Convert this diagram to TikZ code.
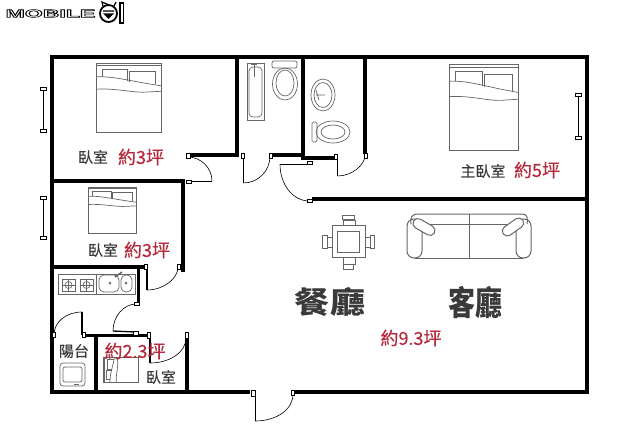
\documentclass[tikz,border=0pt]{standalone}
\usepackage{fontspec}
\setmainfont{Noto Sans CJK TC}
\newfontfamily\logofont{Liberation Sans}
\newfontfamily\areafont[FakeBold=0.5]{Noto Sans CJK TC}
\newfontfamily\roomfont[FakeBold=0.2]{Noto Sans CJK TC}
\definecolor{labelred}{HTML}{B42A3C}
\definecolor{labelgray}{HTML}{3A3A3A}
\definecolor{itemgray}{HTML}{666666}

\begin{document}
\begin{tikzpicture}[x=1pt,y=-1pt,
    wall/.style={line width=4pt},
    thinwall/.style={line width=3pt},
    jamb/.style={fill=white,draw=black,line width=0.5pt},
    leaf/.style={line width=1.3pt},
    swing/.style={line width=0.6pt},
    item/.style={draw=itemgray,line width=0.7pt},
    roomlabel/.style={text=labelgray,font=\roomfont\fontsize{15}{15}\selectfont,inner sep=0pt},
    arealabel/.style={text=labelred,font=\areafont\fontsize{18}{18}\selectfont,inner sep=0pt},
    biglabel/.style={text=labelgray,font=\fontsize{30}{30}\selectfont\bfseries,inner sep=0pt},
    bedicon/.pic={
      \draw[item] (0,0) rectangle (1,1);
      \draw[item] (0,.035)--(1,.035);
      \draw[item] (.09,.2)--(.09,.09)--(.48,.09)--(.48,.26);
      \draw[item] (.51,.27)--(.51,.12)--(.92,.12)--(.92,.31);
      \draw[item] (0,.2) .. controls (.3,.19) and (.55,.27) .. (1,.33);
      \draw[item] (0,.38) .. controls (.3,.36) and (.6,.44) .. (.8,.42) -- (1,.41);
    }]
  \useasboundingbox (0,0) rectangle (618,437);

  % logo
  \node[inner sep=0pt,xscale=2.1,font=\logofont\bfseries\fontsize{11}{11}\selectfont] (logotext) at (50.5,13.5)
    {\special{pdf:code 1 Tr 0.55 w}MOBILE\special{pdf:code 0 Tr}};
  \draw[line width=1.8pt] (108.5,13.5) circle[radius=8.5];
  \draw[line width=1.2pt] (103,6)--(102,2)--(108,4.5) (114,6)--(116,2);
  \draw[line width=1.2pt,fill=black] (103,11)--(114,11) (104.5,14)--(108.5,18)--(112.5,14)--cycle;
  \draw[line width=1.5pt] (120,3) rectangle (123.5,23);

  % walls
  \draw[wall] (50,392)--(250,392);
  \draw[wall] (52,392)--(52,57)--(587,57)--(587,392)--(293,392);
  \draw[wall] (237,57)--(237,155)--(187,155);
  \draw[wall] (52,181)--(183,181)--(183,272);
  \draw[wall] (272,155)--(303,155);
  \draw[wall] (303,57)--(303,158)--(336,158);
  \draw[wall] (365,57)--(365,154);
  \draw[wall] (312,199)--(587,199);
  \draw[wall] (52,267)--(146,267);
  \draw[thinwall] (138,267)--(138,303);
  \draw[thinwall] (84,335)--(148,335);
  \draw[wall] (96,335)--(96,392);
  \draw[wall] (187,339)--(187,392);

  % doors
  \draw[leaf,line width=1pt] (187,181)--(212,181);
  \draw[swing] (188,157) .. controls (201,157) and (212,168) .. (212,181);
  \draw[jamb] (186,153) rectangle (190,158);
  \draw[jamb] (186,180) rectangle (191,183);
  \draw[leaf] (243.5,157)--(243.5,183);
  \draw[swing] (243.5,183) .. controls (258,183) and (270,171) .. (270,156);
  \draw[jamb] (241,153) rectangle (244,158);
  \draw[jamb] (269,153) rectangle (272,158);
  \draw[line width=0.8pt] (280,164)--(308,164);
  \draw[swing] (280,164) .. controls (280,184) and (292,200) .. (308,201);
  \draw[jamb] (307,161) rectangle (312,164);
  \draw[jamb] (307,199) rectangle (312,202);
  \draw[leaf] (337.5,158)--(337.5,176);
  \draw[swing] (337.5,176) .. controls (352,176) and (365,165) .. (365,155);
  \draw[jamb] (334,154) rectangle (337,159);
  \draw[jamb] (364,153) rectangle (367,158);
  \draw[leaf] (147,268)--(147,290);
  \draw[swing] (147,290) .. controls (163,290) and (178,279) .. (178,267);
  \draw[jamb] (144,264) rectangle (147,269);
  \draw[jamb] (177,264) rectangle (180,269);
  \draw[leaf] (113,331)--(135,332);
  \draw[swing] (113,331) .. controls (113,316) and (124,304) .. (136,304);
  \draw[jamb] (134,302) rectangle (139,305);
  \draw[jamb] (133,331) rectangle (138,335);
  \draw[leaf] (82,312)--(82,335);
  \draw[swing] (82,312) .. controls (66,312) and (54,322) .. (54,335);
  \draw[jamb] (82,332) rectangle (85,337);
  \draw[jamb] (52.5,332) rectangle (55,337);
  \draw[leaf] (150,335)--(150,363);
  \draw[swing] (150,363) .. controls (170,363) and (186,352) .. (186,338);
  \draw[jamb] (147,332) rectangle (150,338);
  \draw[jamb] (185,332) rectangle (188,338);
  \draw[line width=0.8pt] (255,396)--(255,421);
  \draw[swing] (255,421) .. controls (276,421) and (293,410) .. (293,394);
  \draw[jamb] (251,390) rectangle (255,396);
  \draw[jamb] (291,390) rectangle (294,395);

  % windows
  \draw[line width=0.7pt] (43,88)--(43,131) (43,197)--(43,238) (578,94)--(578,137);
  \draw[jamb] (40,87) rectangle (46,90);
  \draw[jamb] (40,129) rectangle (46,132);
  \draw[jamb] (40,196) rectangle (46,199);
  \draw[jamb] (40,236) rectangle (46,239);
  \draw[jamb] (575,93) rectangle (581,96);
  \draw[jamb] (575,136) rectangle (581,139);

  % beds
  \coordinate (bedA) at (96,63);
  \coordinate (bedB) at (88,187);
  \coordinate (bedC) at (449,64);
  \coordinate (bedD) at (103,382);
  \pic[x={(65pt,0pt)},y={(0pt,-69pt)}] at (bedA) {bedicon};
  \pic[x={(48pt,0pt)},y={(0pt,-46pt)}] at (bedB) {bedicon};
  \pic[x={(69pt,0pt)},y={(0pt,-86pt)}] at (bedC) {bedicon};
  \pic[x={(0pt,25pt)},y={(35pt,0pt)}] at (bedD) {bedicon};

  % bathroom
  \draw[item] (247,63) rectangle (264,120);
  \draw[item,rounded corners=4pt] (249,67) rectangle (262,117);
  \draw[item] (251,64)--(257,64) (254,64)--(254,77);
  \draw[item,rounded corners=2pt] (272,61) rectangle (297,68);
  \draw[item] (285,84) ellipse[x radius=12.5,y radius=16];
  \draw[item] (285,83) ellipse[x radius=9,y radius=13];
  \draw[item] (323,95) ellipse[x radius=12,y radius=16];
  \draw[item] (323,95) ellipse[x radius=9,y radius=12.5];
  \draw[item] (316,95)--(325,95) (316,90)--(319,100);
  \draw[item,rounded corners=1.5pt] (312,122) rectangle (317,142);
  \draw[item] (333,132) ellipse[x radius=17,y radius=11];
  \draw[item] (333,132) ellipse[x radius=12,y radius=7];

  % kitchen
  \draw[item] (58,274) rectangle (135,294);
  \draw[item] (96,274)--(96,294);
  \draw[item] (62,279) rectangle (75,291);
  \draw[item] (80,279) rectangle (93,291);
  \draw[item] (68.5,285) circle[radius=3.5] (86.5,285) circle[radius=3.5];
  \draw[item] (68.5,279)--(68.5,291) (62,285)--(75,285) (86.5,279)--(86.5,291) (80,285)--(93,285);
  \draw[item,rounded corners=5pt] (99,275) rectangle (119,292);
  \draw[item,rounded corners=5pt] (121,275) rectangle (132,292);
  \draw[item] (110,283) circle[radius=1] (126,283) circle[radius=1];
  \draw[item,line width=1.5pt] (115,277)--(122,272);

  % dining table
  \draw[item] (332,225) rectangle (365,257);
  \draw[item] (337,231) rectangle (359,252);
  \draw[item] (343,220) rectangle (355,225) (342,215) rectangle (354,219);
  \draw[item] (343,257) rectangle (355,264) (343,264) rectangle (353,269);
  \draw[item] (327,237) rectangle (332,247) (322,235) rectangle (327,248);
  \draw[item] (365,237) rectangle (370,247) (370,235) rectangle (374,248);

  % sofa
  \draw[item,line width=1pt] (411,224) .. controls (410,217) and (412,214) .. (418,214) -- (522,214) .. controls (527,214) and (528,217) .. (527,224);
  \draw[item,line width=1pt] (430,224)--(508,224);
  \draw[item,line width=1pt] (469,214)--(469,258);
  \draw[item,line width=1pt] (415,258)--(523,258);
  \draw[item,line width=1pt,rounded corners=7pt] (407,258) rectangle (422,219);
  \draw[item,line width=1pt,rounded corners=7pt] (516,258) rectangle (531,219);
  \draw[item,line width=1pt,fill=white,rounded corners=5pt,rotate around={-30:(424,227)}] (412,222) rectangle (436,232);
  \draw[item,line width=1pt,fill=white,rounded corners=5pt,rotate around={35:(513,227)}] (501,222) rectangle (525,232);

  % washer
  \draw[item,rounded corners=3pt] (60,386)--(60,363)--(85,363)--(85,386)--cycle;
  \draw[item,rounded corners=2pt] (63,382) rectangle (82,367);
  \draw[item,line width=1pt] (74,384.5)--(79,384.5);

  % labels
  \node[roomlabel] (roomA) at (93,157) {臥室};
  \node[arealabel] (areaA) at (141,157) {約3坪};
  \node[roomlabel] (roomB) at (103,250) {臥室};
  \node[arealabel] (areaB) at (147,250) {約3坪};
  \node[roomlabel] (balcony) at (74,351) {陽台};
  \node[arealabel] (areaC) at (135,351) {約2.3坪};
  \node[roomlabel] (roomC) at (161,377) {臥室};
  \node[roomlabel] (masterroom) at (483,171) {主臥室};
  \node[arealabel] (areaD) at (537,170) {約5坪};
  \node[biglabel,xscale=1.17] (dining) at (330,302) {餐廳};
  \node[biglabel,xscale=0.9,yscale=1.12] (living) at (475,302) {客廳};
  \node[arealabel] (areaE) at (411,338) {約9.3坪};
\end{tikzpicture}
\end{document}
